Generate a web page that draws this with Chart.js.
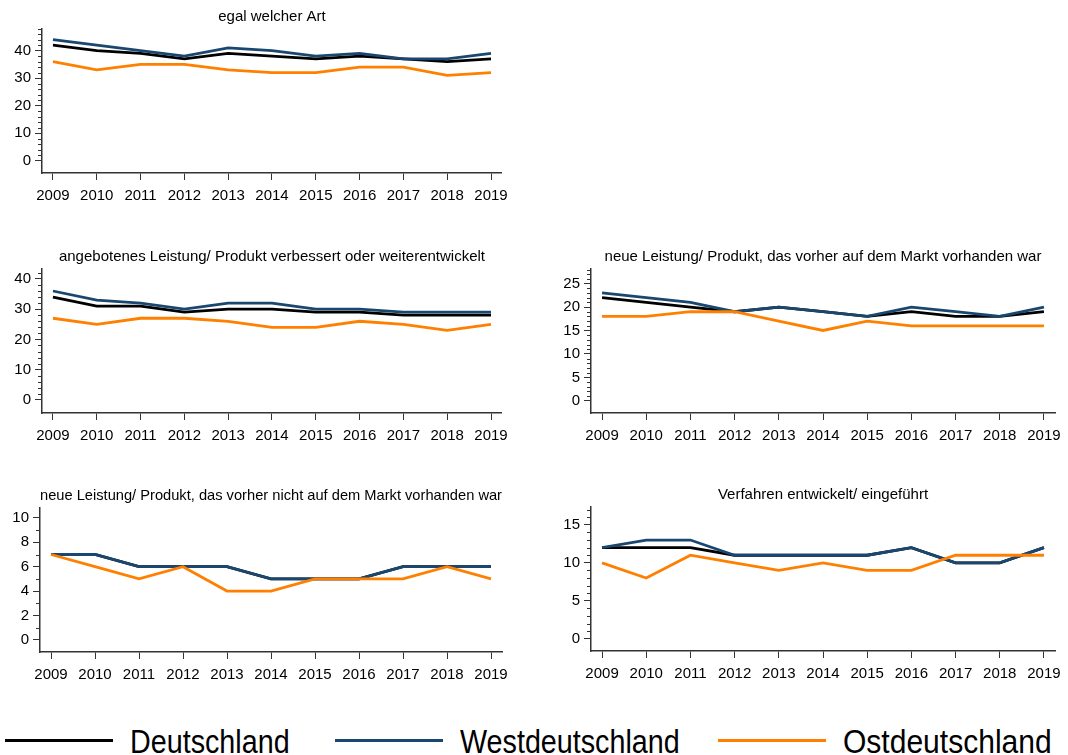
<!DOCTYPE html>
<html>
<head>
<meta charset="utf-8">
<script src="https://cdn.jsdelivr.net/npm/chart.js@4.4.0/dist/chart.umd.min.js"></script>
<style>
  body { margin: 0; background: #fff; width: 1068px; height: 755px; overflow: hidden; position: relative; font-family: "Liberation Sans", Arial, sans-serif; }
  canvas { position: absolute; }
  .lg-line { position: absolute; top: 739px; width: 108px; height: 3px; }
  .lg-text { position: absolute; top: 725px; font-size: 33px; line-height: 33px; color: #000; transform: scaleX(0.87); transform-origin: left top; white-space: nowrap; }
</style>
</head>
<body>
<canvas id="c1" width="515" height="203" style="left:0;top:0"></canvas>
<canvas id="c2" width="515" height="203" style="left:0;top:240px"></canvas>
<canvas id="c3" width="528" height="203" style="left:540px;top:240px"></canvas>
<canvas id="c4" width="515" height="203" style="left:0;top:479px"></canvas>
<canvas id="c5" width="528" height="203" style="left:540px;top:478px"></canvas>

<div class="lg-line" style="left:5px;background:#000"></div>
<div class="lg-text" style="left:130px">Deutschland</div>
<div class="lg-line" style="left:335px;background:#1a476f"></div>
<div class="lg-text" style="left:460px">Westdeutschland</div>
<div class="lg-line" style="left:718px;background:#ff8000"></div>
<div class="lg-text" style="left:843px;transform:scaleX(0.91)">Ostdeutschland</div>

<script>
// data (Prozent)
const years = [2009, 2010, 2011, 2012, 2013, 2014, 2015, 2016, 2017, 2018, 2019];

// egal welcher Art
const egalDE   = [42, 40, 39, 37, 39, 38, 37, 38, 37, 36, 37];
const egalWest = [44, 42, 40, 38, 41, 40, 38, 39, 37, 37, 39];
const egalOst  = [36, 33, 35, 35, 33, 32, 32, 34, 34, 31, 32];

// angebotenes Leistung/ Produkt verbessert
const verbDE   = [34, 31, 31, 29, 30, 30, 29, 29, 28, 28, 28];
const verbWest = [36, 33, 32, 30, 32, 32, 30, 30, 29, 29, 29];
const verbOst  = [27, 25, 27, 27, 26, 24, 24, 26, 25, 23, 25];

// neue Leistung, vorher auf dem Markt vorhanden
const vorhDE   = [22, 21, 20, 19, 20, 19, 18, 19, 18, 18, 19];
const vorhWest = [23, 22, 21, 19, 20, 19, 18, 20, 19, 18, 20];
const vorhOst  = [18, 18, 19, 19, 17, 15, 17, 16, 16, 16, 16];

// neue Leistung, vorher nicht auf dem Markt
const neuDE   = [7, 7, 6, 6, 6, 5, 5, 5, 6, 6, 6];
const neuWest = [7, 7, 6, 6, 6, 5, 5, 5, 6, 6, 6];
const neuOst  = [7, 6, 5, 6, 4, 4, 5, 5, 5, 6, 5];

// Verfahren entwickelt/ eingefuehrt
const verfDE   = [12, 12, 12, 11, 11, 11, 11, 12, 10, 10, 12];
const verfWest = [12, 13, 13, 11, 11, 11, 11, 12, 10, 10, 12];
const verfOst  = [10, 8, 11, 10, 9, 10, 9, 9, 11, 11, 11];

const axisColor = "#333";
const fontFam = "'Liberation Sans', Arial, sans-serif";

// small minor tick marks on the y axis (stata style)
const minorTicks = {
  id: "minorTicks",
  afterDraw(chart, args, opts) {
    const y = chart.scales.y;
    const ctx = chart.ctx;
    ctx.save();
    ctx.strokeStyle = axisColor;
    ctx.lineWidth = 1;
    for (let v = 0; v <= y.max + 1e-9; v += opts.step) {
      if (Math.abs(v % opts.major) < 1e-9) continue;
      const py = Math.round(y.getPixelForValue(v)) + 0.5;
      ctx.beginPath();
      ctx.moveTo(y.right - 4, py);
      ctx.lineTo(y.right, py);
      ctx.stroke();
    }
    ctx.restore();
  },
};

function makePanel(id, title, de, west, ost, p) {
  const pts = (arr) => arr.map((v, i) => ({ x: years[i], y: v }));
  new Chart(document.getElementById(id), {
    type: "line",
    data: {
      datasets: [
        { label: "Deutschland", data: pts(de), borderColor: "#000", order: 2 },
        { label: "Westdeutschland", data: pts(west), borderColor: "#1a476f", order: 1 },
        { label: "Ostdeutschland", data: pts(ost), borderColor: "#ff8000", order: 0 },
      ],
    },
    plugins: [minorTicks],
    options: {
      responsive: false,
      animation: false,
      layout: { padding: { left: 0, right: p.padRight, top: 0, bottom: 0 } },
      elements: {
        line: { borderWidth: 2.8, tension: 0 },
        point: { radius: 0, hoverRadius: 0 },
      },
      plugins: {
        legend: { display: false },
        tooltip: { enabled: false },
        title: {
          display: true,
          text: title,
          fullSize: false,
          color: "#000",
          font: { family: fontFam, size: 15, weight: "normal" },
          padding: { top: 7.5, bottom: 3.1 },
        },
        minorTicks: { step: p.minorStep, major: p.majorStep },
      },
      scales: {
        x: {
          type: "linear",
          min: 2008.75,
          max: 2019.25,
          afterBuildTicks: (s) => { s.ticks = years.map((v) => ({ value: v })); },
          afterFit: (s) => { s.height = 30; },
          grid: { display: true, drawOnChartArea: false, tickLength: 7, color: axisColor, tickWidth: 1 },
          border: { display: true, color: axisColor, width: 1.5 },
          ticks: {
            color: "#000",
            padding: 7,
            maxRotation: 0,
            font: { family: fontFam, size: 15 },
            callback: (v) => String(v),
          },
        },
        y: {
          min: p.min,
          max: p.max,
          afterBuildTicks: (s) => { s.ticks = p.majors.map((v) => ({ value: v })); },
          afterFit: (s) => { s.width = p.yWidth; },
          grid: { display: true, drawOnChartArea: false, tickLength: 7, color: axisColor, tickWidth: 1 },
          border: { display: true, color: axisColor, width: 1.5 },
          ticks: {
            color: "#000",
            padding: 4,
            font: { family: fontFam, size: 15 },
            callback: (v) => String(v),
          },
        },
      },
    },
  });
}

makePanel("c1", "egal welcher Art", egalDE, egalWest, egalOst,
  { min: -4.4, max: 48, majors: [0, 10, 20, 30, 40], minorStep: 2, majorStep: 10, yWidth: 42, padRight: 10 });
makePanel("c2", "angebotenes Leistung/ Produkt verbessert oder weiterentwickelt", verbDE, verbWest, verbOst,
  { min: -4.3, max: 43.4, majors: [0, 10, 20, 30, 40], minorStep: 2, majorStep: 10, yWidth: 42, padRight: 10 });
makePanel("c3", "neue Leistung/ Produkt, das vorher auf dem Markt vorhanden war", vorhDE, vorhWest, vorhOst,
  { min: -2.6, max: 28.2, majors: [0, 5, 10, 15, 20, 25], minorStep: 1, majorStep: 5, yWidth: 51, padRight: 13 });
makePanel("c4", "neue Leistung/ Produkt, das vorher nicht auf dem Markt vorhanden war", neuDE, neuWest, neuOst,
  { min: -1, max: 10.85, majors: [0, 2, 4, 6, 8, 10], minorStep: 1, majorStep: 2, yWidth: 40, padRight: 10 });
makePanel("c5", "Verfahren entwickelt/ eingeführt", verfDE, verfWest, verfOst,
  { min: -1.6, max: 17.4, majors: [0, 5, 10, 15], minorStep: 1, majorStep: 5, yWidth: 51, padRight: 13 });
</script>
</body>
</html>
